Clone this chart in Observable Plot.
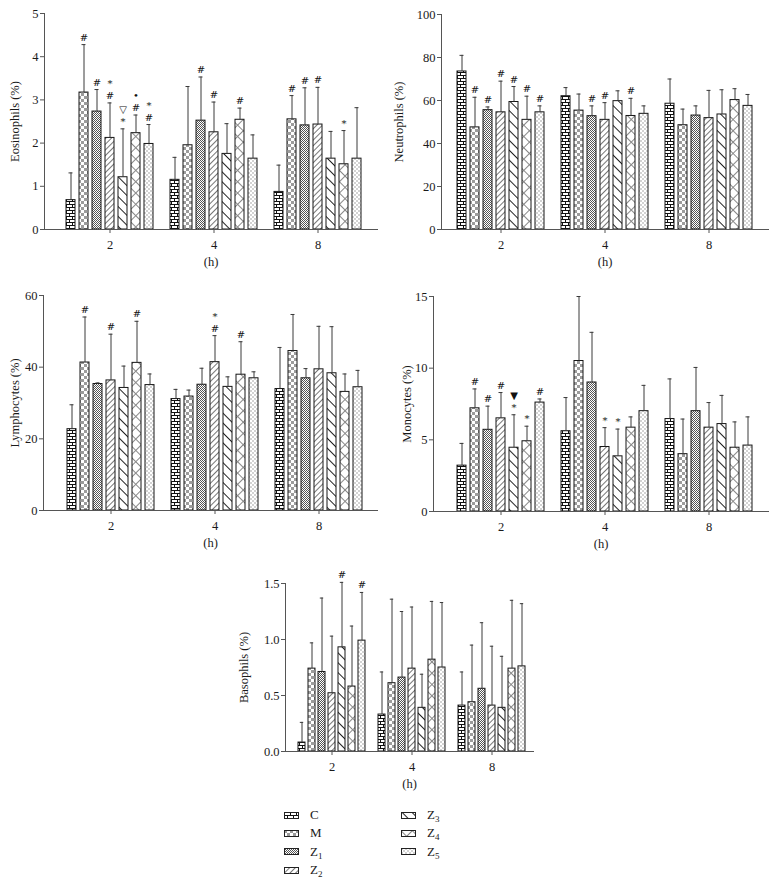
<!DOCTYPE html>
<html><head><meta charset="utf-8">
<script src="https://cdn.jsdelivr.net/npm/d3@7"></script>
<script src="https://cdn.jsdelivr.net/npm/@observablehq/plot@0.6"></script>
<style>
body{margin:0;background:#fff;}
#root{position:relative;width:776px;height:880px;background:#fff;font-family:"Liberation Serif",serif;overflow:hidden;}
.panel{position:absolute;}
.leg{position:absolute;display:flex;align-items:center;font-size:13px;color:#1a1a1a;height:16px;}
.leg svg{margin-right:11px;}
.leg sub{font-size:9px;vertical-align:-3px;line-height:0;}
</style></head><body>
<svg width="0" height="0" style="position:absolute">
<defs>
<pattern id="pat-C" patternUnits="userSpaceOnUse" width="6" height="6">
<rect width="6" height="6" fill="#fff"/>
<path d="M0 0.5H6M0 3.5H6M0.5 0.5V3.5M3.5 3.5V6" stroke="#111" stroke-width="1" fill="none"/>
</pattern>
<pattern id="pat-M" patternUnits="userSpaceOnUse" width="6" height="6">
<rect width="6" height="6" fill="#fff"/>
<rect width="3" height="3" fill="#9c9c9c"/><rect x="3" y="3" width="3" height="3" fill="#9c9c9c"/>
</pattern>
<pattern id="pat-Z1" patternUnits="userSpaceOnUse" width="2" height="2">
<rect width="2" height="2" fill="#fff"/>
<rect width="1" height="1" fill="#555"/><rect x="1" y="1" width="1" height="1" fill="#555"/>
</pattern>
<pattern id="pat-Z2" patternUnits="userSpaceOnUse" width="4" height="4" patternTransform="rotate(45)">
<rect width="4" height="4" fill="#fff"/><rect width="1" height="4" fill="#777"/>
</pattern>
<pattern id="pat-Z3" patternUnits="userSpaceOnUse" width="7" height="7" patternTransform="rotate(-45)">
<rect width="7" height="7" fill="#fff"/><rect width="1" height="7" fill="#222"/>
</pattern>
<pattern id="pat-Z4" patternUnits="userSpaceOnUse" width="8" height="8" patternTransform="rotate(45)">
<rect width="8" height="8" fill="#fff"/><rect width="1" height="8" fill="#888"/><rect width="8" height="1" fill="#888"/>
</pattern>
<pattern id="pat-Z5" patternUnits="userSpaceOnUse" width="4" height="4">
<rect width="4" height="4" fill="#fff"/>
<circle cx="1" cy="1" r="0.8" fill="#999"/><circle cx="3" cy="3" r="0.8" fill="#999"/>
</pattern>
</defs></svg>
<div id="root"></div>
<script>
const groups = ["2", "4", "8"];
const series = ["C", "M", "Z1", "Z2", "Z3", "Z4", "Z5"];

// Eosinophils (%)
const eosMean = [
  [0.68, 3.17, 2.73, 2.12, 1.21, 2.23, 1.98],
  [1.15, 1.95, 2.52, 2.25, 1.75, 2.54, 1.64],
  [0.87, 2.55, 2.41, 2.43, 1.64, 1.51, 1.64]];
const eosUpper = [
  [1.31, 4.28, 3.24, 2.93, 2.33, 2.65, 2.43],
  [1.67, 3.31, 3.53, 2.95, 2.45, 2.81, 2.19],
  [1.49, 3.10, 3.28, 3.29, 2.27, 2.29, 2.82]];
const eosSig = [
  ["", "#", "#", "*\n#", "▽\n*", "•\n#", "*\n#"],
  ["", "", "#", "#", "", "#", ""],
  ["", "#", "#", "#", "", "*", ""]];

// Neutrophils (%)
const neuMean = [
  [73.5, 47.5, 55.5, 54.5, 59.3, 51.0, 54.5],
  [62.0, 55.3, 52.7, 51.0, 59.7, 52.8, 53.8],
  [58.5, 48.5, 53.0, 51.8, 53.5, 60.2, 57.5]];
const neuUpper = [
  [81.0, 61.5, 57.0, 69.0, 66.5, 62.0, 57.5],
  [66.0, 63.0, 57.5, 59.0, 64.5, 61.0, 57.5],
  [70.0, 56.0, 57.5, 64.7, 65.0, 65.5, 62.8]];
const neuSig = [
  ["", "#", "#", "#", "#", "#", "#"],
  ["", "", "#", "#", "", "#", ""],
  ["", "", "", "", "", "", ""]];

// Lymphocytes (%)
const lymMean = [
  [22.7, 41.3, 35.3, 36.3, 34.2, 41.2, 35.0],
  [31.1, 31.8, 35.1, 41.4, 34.5, 37.9, 36.9],
  [33.9, 44.5, 36.9, 39.4, 38.3, 33.1, 34.4]];
const lymUpper = [
  [29.5, 54.0, 35.6, 49.2, 40.3, 52.8, 38.1],
  [33.8, 33.6, 39.7, 48.8, 37.3, 47.1, 38.7],
  [45.5, 54.7, 39.6, 51.4, 51.3, 38.1, 39.1]];
const lymSig = [
  ["", "#", "", "#", "", "#", ""],
  ["", "", "", "*\n#", "", "#", ""],
  ["", "", "", "", "", "", ""]];

// Monocytes (%)
const monMean = [
  [3.2, 7.2, 5.7, 6.5, 4.45, 4.9, 7.6],
  [5.6, 10.5, 9.0, 4.5, 3.85, 5.85, 7.0],
  [6.45, 4.0, 7.0, 5.85, 6.1, 4.45, 4.6]];
const monUpper = [
  [4.75, 8.55, 7.35, 8.3, 6.75, 5.95, 7.85],
  [7.95, 15.0, 12.5, 5.85, 5.75, 6.6, 8.8],
  [9.25, 6.45, 10.05, 7.6, 8.1, 6.25, 6.6]];
const monSig = [
  ["", "#", "#", "#", "▼\n*", "*", "#"],
  ["", "", "", "*", "*", "", ""],
  ["", "", "", "", "", "", ""]];

// Basophils (%)
const basMean = [
  [0.08, 0.74, 0.71, 0.52, 0.93, 0.58, 0.99],
  [0.33, 0.61, 0.66, 0.74, 0.39, 0.82, 0.75],
  [0.41, 0.44, 0.56, 0.41, 0.39, 0.74, 0.76]];
const basUpper = [
  [0.26, 0.97, 1.37, 1.03, 1.51, 1.12, 1.42],
  [0.71, 1.36, 1.25, 1.29, 0.69, 1.34, 1.33],
  [0.71, 0.95, 1.15, 0.94, 0.85, 1.35, 1.32]];
const basSig = [
  ["", "", "", "", "#", "", "#"],
  ["", "", "", "", "", "", ""],
  ["", "", "", "", "", "", ""]];

const eosTicks = [0, 1, 2, 3, 4, 5];
const neuTicks = [0, 20, 40, 60, 80, 100];
const lymTicks = [0, 20, 40, 60];
const monTicks = [0, 5, 10, 15];
const basTicks = [0, 0.5, 1.0, 1.5];

const root = document.getElementById("root");

function panel(cfg) {
  const rows = [];
  groups.forEach((g, gi) => series.forEach((s, si) => rows.push({
    g, s, key: g + "-" + s,
    mean: cfg.mean[gi][si], upper: cfg.upper[gi][si], sig: cfg.sig[gi][si]
  })));
  const domain = [];
  groups.forEach((g, gi) => { if (gi) domain.push("gap" + gi); series.forEach(s => domain.push(g + "-" + s)); });
  const chart = Plot.plot({
    width: cfg.width, height: cfg.height,
    marginLeft: cfg.mL, marginRight: cfg.mR, marginTop: cfg.mT, marginBottom: cfg.mB,
    style: {fontFamily: '"Liberation Serif", serif', fontSize: "12.5px", color: "#1a1a1a", background: "transparent", overflow: "visible"},
    x: {type: "band", domain, range: cfg.range, paddingInner: 0.3, paddingOuter: 0},
    y: {domain: [cfg.ticks[0], cfg.ticks[cfg.ticks.length - 1]]},
    color: {type: "ordinal", domain: series, range: series.map(s => `url(#pat-${s})`)},
    marks: [
      Plot.barY(rows, {x: "key", y: "mean", fill: "s", stroke: "#161616", strokeWidth: 1}),
      Plot.ruleX(rows, {x: "key", y1: "mean", y2: "upper", stroke: "#3a3a3a", strokeWidth: 1}),
      Plot.tickY(rows, {x: "key", y: "upper", stroke: "#3a3a3a", strokeWidth: 1, insetLeft: cfg.cap, insetRight: cfg.cap}),
      Plot.text(rows.filter(d => d.sig), {x: "key", y: "upper", text: "sig", lineAnchor: "bottom", dy: -4,
        fontSize: 10, lineHeight: 1.2, fill: "#111", fontFamily: '"DejaVu Serif", serif'}),
      Plot.frame({anchor: "left", stroke: "#555"}),
      Plot.frame({anchor: "bottom", stroke: "#555"}),
      Plot.axisY({ticks: cfg.ticks, tickFormat: cfg.fmt, tickSize: 4, tickPadding: 2, stroke: "#555",
        label: cfg.label, labelArrow: "none", labelAnchor: "center", labelOffset: cfg.labelOffset}),
      Plot.axisX({ticks: groups.map(g => g + "-Z2"), tickFormat: d => d.split("-")[0], tickSize: 4, tickPadding: 7, stroke: "#555",
        label: "(h)", labelArrow: "none", labelAnchor: "center", labelOffset: 36})
    ]
  });
  chart.classList.add("panel");
  chart.style.left = cfg.left + "px";
  chart.style.top = cfg.top + "px";
  root.appendChild(chart);
}

panel({mean: eosMean, upper: eosUpper, sig: eosSig, ticks: eosTicks, fmt: d3.format("d"), label: "Eosinophils (%)",
  left: 0, top: 0, width: 388, height: 275, mL: 44, mR: 11, mT: 13, mB: 46, range: [59, 369], cap: 2.5, labelOffset: 34});
panel({mean: neuMean, upper: neuUpper, sig: neuSig, ticks: neuTicks, fmt: d3.format("d"), label: "Neutrophils (%)",
  left: 388, top: 0, width: 388, height: 275, mL: 53, mR: 8, mT: 14, mB: 46, range: [62.7, 370], cap: 2.5, labelOffset: 47});
panel({mean: lymMean, upper: lymUpper, sig: lymSig, ticks: lymTicks, fmt: d3.format("d"), label: "Lymphocytes (%)",
  left: 0, top: 280, width: 388, height: 276, mL: 43, mR: 11, mT: 15, mB: 46, range: [59.3, 369.3], cap: 2.5, labelOffset: 33});
panel({mean: monMean, upper: monUpper, sig: monSig, ticks: monTicks, fmt: d3.format("d"), label: "Monocytes (%)",
  left: 388, top: 280, width: 388, height: 277, mL: 45, mR: 8, mT: 16, mB: 46, range: [62.7, 370], cap: 2.5, labelOffset: 31});
panel({mean: basMean, upper: basUpper, sig: basSig, ticks: basTicks, fmt: d3.format(".1f"), label: "Basophils (%)",
  left: 200, top: 565, width: 376, height: 232, mL: 85, mR: 43, mT: 18, mB: 46, range: [90.7, 331.7], cap: 1.8, labelOffset: 46});

// legend
const legendLabels = ["C", "M", "Z<sub>1</sub>", "Z<sub>2</sub>", "Z<sub>3</sub>", "Z<sub>4</sub>", "Z<sub>5</sub>"];
series.forEach((s, i) => {
  const col = i < 4 ? 0 : 1, row = i < 4 ? i : i - 4;
  const div = document.createElement("div");
  div.className = "leg";
  div.style.left = (col ? 401 : 284) + "px";
  div.style.top = (807 + row * 18.4) + "px";
  div.innerHTML = `<svg width="15" height="7"><rect x="0.5" y="0.5" width="14" height="6" fill="url(#pat-${s})" stroke="#222"/></svg><span>${legendLabels[i]}</span>`;
  root.appendChild(div);
});
</script>
</body></html>
